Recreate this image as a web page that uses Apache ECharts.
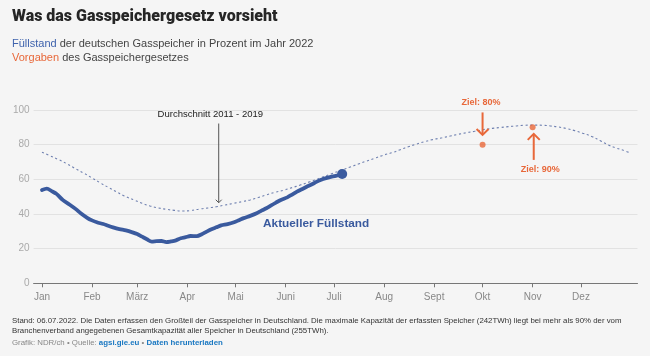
<!DOCTYPE html>
<html>
<head>
<meta charset="utf-8">
<script src="https://cdn.jsdelivr.net/npm/echarts@6/dist/echarts.min.js"></script>
<style>
html,body{margin:0;padding:0;background:#f5f5f5;}
#chart{width:650px;height:356px;}
</style>
</head>
<body>
<div id="chart"></div>
<script>
// ---- data ----
const monthLabels = ['Jan','Feb','März','Apr','Mai','Juni','Juli','Aug','Sept','Okt','Nov','Dez'];
const monthStartDays = [0,31,59,90,120,151,181,212,243,273,304,334];
const yTicks = [0,20,40,60,80,100];

// Füllstand 2022 (day of year, percent)
const fillDays = [0,3,6,9,13,17,21,24,28,31,34,38,41,44,48,52,56,59,62,65,68,71,74,77,80,83,86,89,92,96,99,102,105,108,111,115,119,122,125,129,133,136,139,142,145,148,152,155,158,161,164,167,170,173,176,179,182,186];
const fillValues = [53.8,54.6,53.2,51.6,48.0,45.5,42.8,40.4,37.8,36.3,35.2,34.2,33.2,32.3,31.3,30.5,29.4,28.4,26.9,25.4,24.1,24.3,24.4,23.8,24.2,24.8,26.0,26.6,27.3,27.2,28.3,29.8,31.2,32.3,33.4,34.1,35.2,36.4,37.6,38.9,40.4,41.9,43.3,45.0,46.6,48.1,49.6,51.2,52.9,54.3,55.7,57.0,58.5,59.8,60.7,61.4,62.0,63.1];

// Durchschnitt 2011 - 2019
const avgDays = [0,5,10,15,20,26,31,36,41,46,51,57,62,67,72,77,82,87,92,98,103,108,113,119,124,129,134,139,144,150,155,160,166,172,179,186,191,196,201,206,211,217,222,227,232,237,242,248,253,258,263,268,273,279,284,289,294,299,304,310,315,320,325,330,335,341,346,351,356,361,364];
const avgValues = [75.6,73.6,71.5,69.2,66.5,63.5,60.8,58.0,55.4,52.9,50.4,48.1,46.2,44.6,43.5,42.7,42.1,41.7,42.0,42.9,43.5,44.2,45.1,46.2,47.1,48.1,49.5,51.0,52.4,53.8,55.2,56.7,58.6,60.6,63.1,65.4,67.1,68.8,70.5,72.1,73.8,75.4,77.1,78.8,80.3,81.7,82.9,84.0,85.0,86.0,86.9,87.7,88.6,89.4,89.9,90.4,90.8,91.2,91.3,91.2,90.8,90.2,89.3,88.1,86.6,84.6,82.3,79.8,78.0,76.5,75.4];

// Vorgaben des Gasspeichergesetzes
const targetDays = [273,304];
const targetValues = [80,90];
const targetLabels = ['Ziel: 80%','Ziel: 90%'];

// ---- styles ----
const BLUE = '#3a5a9e';
const ORANGE = '#e8683a';
const FONT = '"Liberation Sans", Arial, Helvetica, sans-serif';

const notes = [
  {day:109.5, from:92.2, to:46.5, textDay:104.3, textY:97.7, text:'Durchschnitt 2011 - 2019', color:'#555', w:1, head:3, bold:false, size:9.5, textColor:'#222'},
  {day:targetDays[0], from:98.6, to:85.6, textDay:272, textY:104.6, text:targetLabels[0], color:ORANGE, w:2, head:6, bold:true, size:9, textColor:ORANGE},
  {day:targetDays[1]+0.7, from:71.2, to:86.2, textDay:308.8, textY:65.6, text:targetLabels[1], color:ORANGE, w:2, head:6, bold:true, size:9, textColor:ORANGE},
  {textDay:137, textY:34.3, text:'Aktueller Füllstand', bold:true, size:11.8, textColor:BLUE, align:'left'}
];

const fillData = fillDays.map((d,i)=> i===fillDays.length-1 ? {value:[d,fillValues[i]], symbol:'circle', symbolSize:10} : [d,fillValues[i]]);
const avgData = avgDays.map((d,i)=>[d,avgValues[i]]);
const targetData = targetDays.map((d,i)=>[d,targetValues[i]]);

const chart = echarts.init(document.getElementById('chart'), null, {renderer:'canvas'});

const option = {
  backgroundColor:'#f5f5f5',
  animation:false,
  textStyle:{fontFamily:FONT},
  grid:{left:33.6, right:12.5, top:110, bottom:72.7, containLabel:false},
  xAxis:{
    type:'value', min:-5.2, max:369,
    axisLine:{show:true, lineStyle:{color:'#777', width:1}},
    axisTick:{show:true, customValues:monthStartDays, length:4, lineStyle:{color:'#777'}},
    axisLabel:{show:true, customValues:monthStartDays, margin:9, color:'#888', fontSize:10, fontFamily:FONT,
      formatter:(v)=>monthLabels[monthStartDays.indexOf(v)] || ''},
    splitLine:{show:false}
  },
  yAxis:{
    type:'value', min:yTicks[0], max:yTicks[yTicks.length-1], interval:20,
    axisLine:{show:false}, axisTick:{show:false},
    axisLabel:{color:'#aaa', fontSize:10, margin:4, fontFamily:FONT},
    splitLine:{lineStyle:{color:'#e2e2e2', width:1}}
  },
  series:[
    {
      name:'Durchschnitt', type:'line', data:avgData, smooth:true, symbol:'none',
      lineStyle:{color:'#6f80b0', width:1.1, type:[2.2,2.6]}, z:2
    },
    {
      name:'Füllstand', type:'line', data:fillData, smooth:0.3, symbol:'none', showSymbol:true,
      lineStyle:{color:BLUE, width:3.8, cap:'round', join:'round'}, itemStyle:{color:BLUE}, z:4
    },
    {
      name:'Vorgaben', type:'scatter', data:targetData, symbolSize:6, itemStyle:{color:ORANGE}, z:5
    },
    {
      name:'notes', type:'custom', clip:false, z:6, silent:true,
      data: notes.map(n=>[n.textDay, n.textY]),
      renderItem:(params, api)=>{
        const n = notes[params.dataIndex];
        const children = [];
        if (n.from !== undefined) {
          const p1 = api.coord([n.day, n.from]);
          const p2 = api.coord([n.day, n.to]);
          const dir = p2[1] > p1[1] ? 1 : -1;
          children.push({type:'line', shape:{x1:p1[0], y1:p1[1], x2:p2[0], y2:p2[1]}, style:{stroke:n.color, lineWidth:n.w}});
          children.push({type:'polyline', shape:{points:[[p2[0]-n.head, p2[1]-dir*n.head],[p2[0], p2[1]],[p2[0]+n.head, p2[1]-dir*n.head]]}, style:{stroke:n.color, lineWidth:n.w, fill:null}});
        }
        const pt = api.coord([n.textDay, n.textY]);
        children.push({type:'text', x:pt[0], y:pt[1], style:{text:n.text, fill:n.textColor, font:(n.bold?'bold ':'')+n.size+'px '+FONT, textAlign:n.align||'center', textVerticalAlign:'middle'}});
        return {type:'group', children};
      }
    }
  ],
  graphic:[
    {type:'text', left:12, top:9, style:{text:'Was das Gasspeichergesetz vorsieht', fill:'#262626', font:'900 16px Roboto, "Liberation Sans", Arial, sans-serif'}},
    {type:'text', left:12, top:37, style:{
      text:'{b|Füllstand} der deutschen Gasspeicher in Prozent im Jahr 2022\n{o|Vorgaben} des Gasspeichergesetzes',
      fill:'#444', font:'11px '+FONT, lineHeight:13.7,
      rich:{b:{fill:'#3f63ad', font:'11px '+FONT, lineHeight:13.7}, o:{fill:ORANGE, font:'11px '+FONT, lineHeight:13.7}}
    }},
    {type:'text', left:12, top:316, style:{
      text:'Stand: 06.07.2022. Die Daten erfassen den Großteil der Gasspeicher in Deutschland. Die maximale Kapazität der erfassten Speicher (242TWh) liegt bei mehr als 90% der vom\nBranchenverband angegebenen Gesamtkapazität aller Speicher in Deutschland (255TWh).',
      fill:'#333', font:'7.85px '+FONT, lineHeight:10
    }},
    {type:'text', left:12, top:339, style:{
      text:'Grafik: NDR/ch • Quelle: {l|agsi.gie.eu} • {l|Daten herunterladen}',
      fill:'#888', font:'7.85px '+FONT,
      rich:{l:{fill:'#1a78c2', font:'bold 7.85px '+FONT}}
    }}
  ]
};
chart.setOption(option);
</script>
</body>
</html>
